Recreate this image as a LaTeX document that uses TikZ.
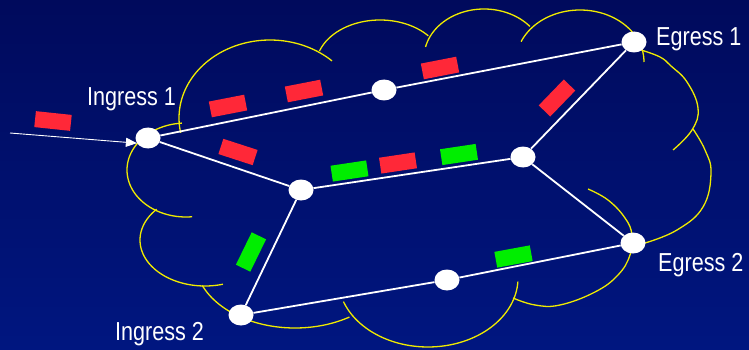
\documentclass[tikz,border=0pt]{standalone}
\usepackage{fontspec}
\setmainfont{Liberation Sans}
\usepackage{graphicx}
\usetikzlibrary{arrows.meta,shapes.geometric}

\definecolor{bgtop}{RGB}{0,10,92}
\definecolor{bgbot}{RGB}{0,22,128}
\definecolor{cloudy}{RGB}{240,235,0}
\definecolor{pktred}{RGB}{255,40,56}
\definecolor{pktgreen}{RGB}{0,238,0}

% one elliptical lobe of the cloud: centre x, centre y, x radius, y radius, start angle, end angle
\newcommand{\cloudlobe}[6]{%
  \draw[cloudline] plot[domain=#5:#6, samples=60, variable=\a]
    ({#1+#3*cos(\a)},{#2+#4*sin(\a)});}

\begin{document}
\begin{tikzpicture}[x=1pt,y=-1pt,
  router/.style={ellipse, fill=white, minimum width=25pt, minimum height=21pt, inner sep=0pt},
  link/.style={draw=white, line width=1.8pt},
  cloudline/.style={draw=cloudy, line width=1.3pt},
  pkt/.style={rectangle, minimum width=36pt, minimum height=16pt, inner sep=0pt},
  redpkt/.style={pkt, fill=pktred},
  greenpkt/.style={pkt, fill=pktgreen},
  lbl/.style={text=white, font=\fontsize{26}{30}\selectfont, inner sep=0pt, anchor=base west}]

% background
\useasboundingbox (0,0) rectangle (749,350);
\fill[top color=bgtop, bottom color=bgbot] (0,0) rectangle (749,350);

% cloud outline
\cloudlobe{270}{118}{91}{78}{169}{313}
\cloudlobe{380}{66}{64}{46}{199}{319}
\cloudlobe{484}{58}{60}{49}{193}{320}
\cloudlobe{580}{62}{64}{52}{203}{360}
\draw[cloudline] plot[smooth, tension=0.7] coordinates
  {(641,50) (660,57) (671,66) (687,82) (698,108) (692,130) (673,150)};
\draw[cloudline] plot[smooth, tension=0.7] coordinates
  {(693,129) (705,150) (711,173) (703,207) (677,230) (645,243)};
\draw[cloudline] plot[smooth, tension=0.7] coordinates
  {(513,298) (535,305) (560,305) (595,292) (618,275) (630,255) (632,235) (625,218) (608,200) (588,189)};
\cloudlobe{428}{278}{90}{69}{3}{160}
\cloudlobe{295}{260}{100}{68}{57}{158}
\cloudlobe{205}{240}{65}{46}{74}{222}
\cloudlobe{186}{170}{59}{47}{84}{266}

% routers
\node[router] (i1) at (148,138) {};
\node[router] (t)  at (384,90)  {};
\node[router] (e1) at (634,42)  {};
\node[router] (ml) at (301,190) {};
\node[router] (mr) at (523,157) {};
\node[router] (e2) at (633,243) {};
\node[router] (b)  at (447,280) {};
\node[router] (i2) at (241,315) {};
\coordinate (src) at (10,133);

% links
\draw[link] (i1) -- (t) -- (e1);
\draw[link] (i1) -- (ml);
\draw[link] (ml) -- (mr);
\draw[link] (mr) -- (e1);
\draw[link] (mr) -- (e2);
\draw[link] (ml) -- (i2);
\draw[link] (i2) -- (b) -- (e2);
\draw[white, line width=0.9pt, -{Triangle[length=11pt,width=9pt]}] (src) -- (i1.205);

% packets
\node[redpkt, rotate=-6]  (p1) at (53,121)  {};
\node[redpkt, rotate=11]  (p2) at (228,106) {};
\node[redpkt, rotate=11]  (p3) at (304,91)  {};
\node[redpkt, rotate=11]  (p4) at (440,68)  {};
\node[redpkt, rotate=-18] (p5) at (238,152) {};
\node[redpkt, rotate=46]  (p6) at (557,98)  {};
\node[greenpkt, rotate=8.5] (g1) at (349.5,171) {};
\node[redpkt, rotate=8.5]   (p7) at (398,163)   {};
\node[greenpkt, rotate=8.5] (g2) at (459,154.5) {};
\node[greenpkt, rotate=64]  (g3) at (251,252)   {};
\node[greenpkt, rotate=10.4] (g4) at (513.5,256.5) {};

% labels
\node[lbl] (li1) at (87,106)  {\scalebox{0.83}[1]{Ingress 1}};
\node[lbl] (le1) at (656,46)  {\scalebox{0.83}[1]{Egress 1}};
\node[lbl] (le2) at (658,271) {\scalebox{0.83}[1]{Egress 2}};
\node[lbl] (li2) at (115,340.5) {\scalebox{0.83}[1]{Ingress 2}};
\end{tikzpicture}
\end{document}
